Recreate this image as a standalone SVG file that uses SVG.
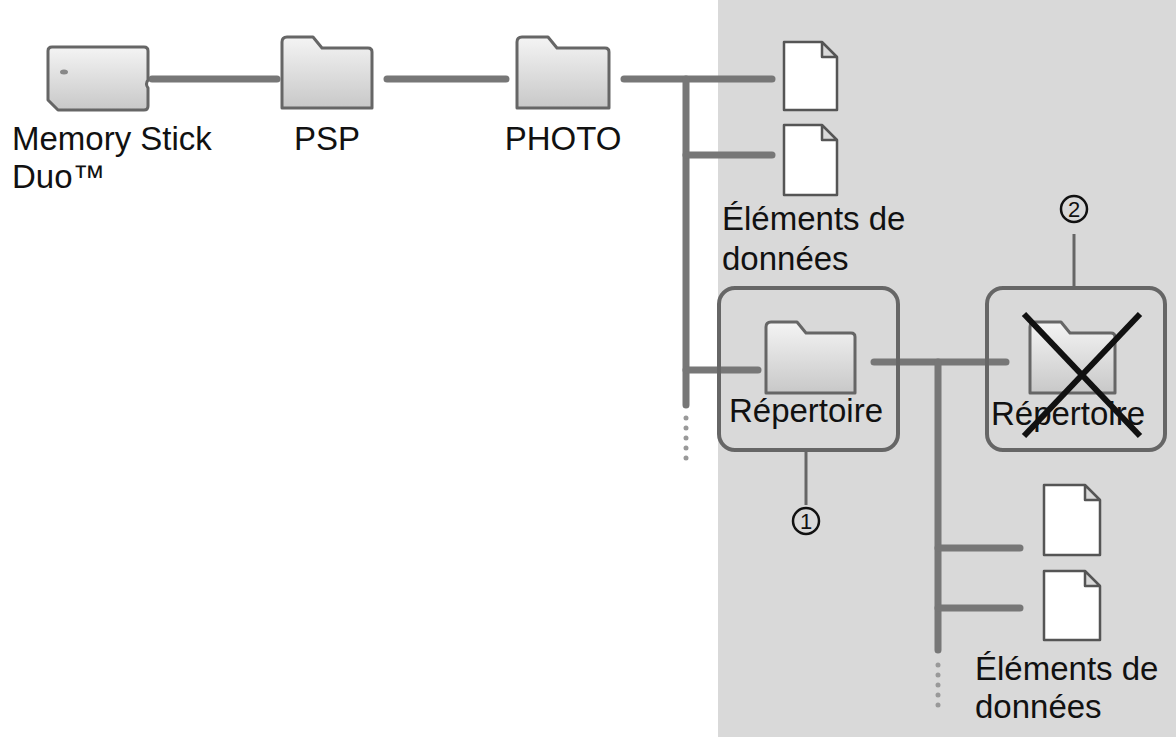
<svg xmlns="http://www.w3.org/2000/svg" width="1176" height="737" viewBox="0 0 1176 737">
<defs>
<linearGradient id="fg" x1="0" y1="0" x2="0" y2="1"><stop offset="0" stop-color="#f4f4f4"/><stop offset="1" stop-color="#c8c8c8"/></linearGradient>
<style>
text{font-family:"Liberation Sans",Arial,sans-serif;font-size:33px;fill:#111}
.ln{stroke:#777;stroke-width:7;fill:none;stroke-linecap:round}
.th{stroke:#666;stroke-width:3;fill:none}
.fold{fill:url(#fg);stroke:#666;stroke-width:3;stroke-linejoin:round}
.doc{fill:#fff;stroke:#555;stroke-width:2.5;stroke-linejoin:round}
.box{fill:none;stroke:#666;stroke-width:4}
.dot{fill:#999}
.num{fill:none;stroke:#111;stroke-width:2.5}
</style>
</defs>
<rect width="1176" height="737" fill="#fff"/>
<rect x="718" y="0" width="458" height="737" fill="#d9d9d9"/>
<g id="connectors">
<line class="ln" x1="152" y1="79" x2="277" y2="79"/>
<line class="ln" x1="387" y1="79" x2="506" y2="79"/>
<line class="ln" x1="624" y1="79" x2="772" y2="79"/>
<line class="ln" x1="686" y1="79" x2="686" y2="405"/>
<line class="ln" x1="686" y1="155" x2="772" y2="155"/>
<line class="ln" x1="686" y1="370" x2="758" y2="370"/>
<line class="ln" x1="874" y1="362" x2="1006" y2="362"/>
<line class="ln" x1="938" y1="362" x2="938" y2="650"/>
<line class="ln" x1="938" y1="548" x2="1020" y2="548"/>
<line class="ln" x1="938" y1="608" x2="1020" y2="608"/>
<line class="th" x1="806" y1="452" x2="806" y2="505"/>
<line class="th" x1="1074" y1="234" x2="1074" y2="287"/>
<g class="dot"><circle cx="686" cy="418" r="2.5"/><circle cx="686" cy="428" r="2.5"/><circle cx="686" cy="438" r="2.5"/><circle cx="686" cy="448" r="2.5"/><circle cx="686" cy="458" r="2.5"/>
<circle cx="938" cy="665" r="2.5"/><circle cx="938" cy="675" r="2.5"/><circle cx="938" cy="685" r="2.5"/><circle cx="938" cy="695" r="2.5"/><circle cx="938" cy="705" r="2.5"/></g>
</g>
<g id="memstick">
<path class="fold" d="M52 47 H144 Q148 47 148 51 V80 Q145 84 148 88 V106 Q148 110 144 110 H58 L48 100 V51 Q48 47 52 47Z"/>
<ellipse cx="64" cy="72" rx="4" ry="2.5" fill="#888"/>
<text x="12" y="150">Memory Stick</text><text x="12" y="188">Duo™</text>
</g>
<g id="psp">
<path class="fold" d="M282 108 V42 Q282 37 287 37 H313 L322 48 H368 Q372 48 372 52 V108Z"/>
<text x="327" y="150" text-anchor="middle">PSP</text>
</g>
<g id="photo">
<path class="fold" d="M517 108 V42 Q517 37 522 37 H548 L557 48 H605 Q609 48 609 52 V108Z"/>
<text x="563" y="150" text-anchor="middle">PHOTO</text>
</g>
<g id="doc1"><path class="doc" d="M784 42 H822 L837 57 V110 H784Z M822 42 V57 H837"/></g>
<g id="doc2"><path class="doc" d="M784 125 H822 L837 140 V195 H784Z M822 125 V140 H837"/>
<text x="722" y="230">Éléments de</text><text x="722" y="270">données</text></g>
<g id="rep1">
<rect class="box" x="719" y="288" width="179" height="162" rx="16"/>
<path class="fold" d="M766 393 V327 Q766 322 771 322 H797 L806 333 H851 Q855 333 855 337 V393Z"/>
<text x="806" y="422" text-anchor="middle">Répertoire</text>
<circle class="num" cx="806" cy="521" r="13"/><text x="806" y="529" text-anchor="middle" style="font-size:22px">1</text>
</g>
<g id="rep2">
<rect class="box" x="987" y="288" width="178" height="162" rx="16"/>
<path class="fold" d="M1030 393 V327 Q1030 322 1035 322 H1061 L1070 333 H1111 Q1115 333 1115 337 V393Z"/>
<text x="1068" y="425" text-anchor="middle">Répertoire</text>
<line x1="1024" y1="314" x2="1140" y2="436" stroke="#111" stroke-width="6"/>
<line x1="1140" y1="314" x2="1024" y2="436" stroke="#111" stroke-width="6"/>
<circle class="num" cx="1074" cy="209" r="13"/><text x="1074" y="217" text-anchor="middle" style="font-size:22px">2</text>
</g>
<g id="doc3"><path class="doc" d="M1044 485 H1085 L1100 500 V555 H1044Z M1085 485 V500 H1100"/></g>
<g id="doc4"><path class="doc" d="M1044 571 H1085 L1100 586 V640 H1044Z M1085 571 V586 H1100"/>
<text x="975" y="680">Éléments de</text><text x="975" y="718">données</text></g>
</svg>
